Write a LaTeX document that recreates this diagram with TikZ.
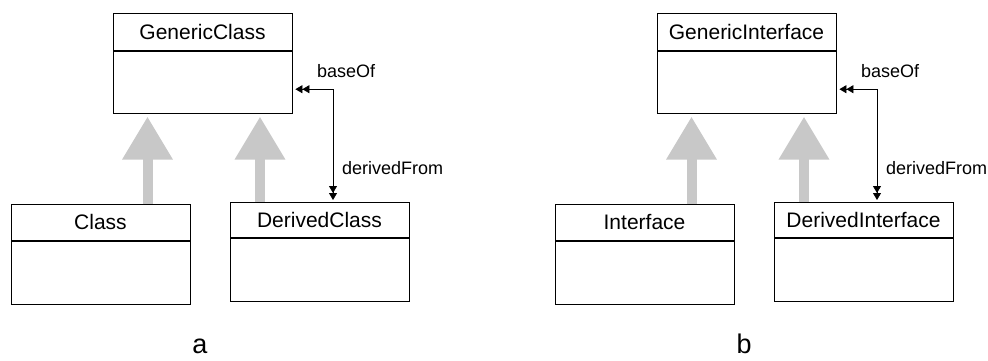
\documentclass[tikz,border=0pt]{standalone}
\usepackage{fontspec}
\setmainfont{Liberation Sans}
\usepackage{xcolor}
\usetikzlibrary{arrows.meta}

\definecolor{inhgray}{RGB}{200,200,200}

\begin{document}
\begin{tikzpicture}[x=1pt,y=-1pt,
	head/.style={draw,line width=0.8pt,minimum width=179pt,minimum height=37pt,inner sep=0pt,anchor=north,font=\fontsize{21}{25}\selectfont},
	body/.style={draw,line width=0.8pt,minimum width=179pt,minimum height=62pt,inner sep=0pt,anchor=north},
	lbl/.style={anchor=west,inner sep=0pt,font=\fontsize{18}{21}\selectfont},
	inherit/.style={draw=inhgray,line width=10pt,shorten >=3pt,-{Triangle[length=43pt,width=48pt]}},
	assoc/.style={line width=0.8pt,shorten <=3pt,shorten >=2pt,
		{Triangle[length=7pt,width=8pt] Triangle[length=7pt,width=8pt]}-{Triangle[length=7pt,width=8pt] Triangle[length=7pt,width=8pt]}}]
	\useasboundingbox (0,0) rectangle (988,360);
	
	\foreach \dx/\gname/\bname/\dname/\tag in {0/GenericClass/Class/DerivedClass/a,544/GenericInterface/Interface/DerivedInterface/b}{
		\begin{scope}[xshift=\dx pt]
			\node[head] (gen\tag) at (202.5,13) {\gname};
			\node[body] (genb\tag) at (gen\tag.south) {};
			\node[head,minimum height=36pt] (cls\tag) at (100.5,204) {\bname};
			\node[body,minimum height=63pt] (clsb\tag) at (cls\tag.south) {};
			\node[head,minimum height=35pt] (der\tag) at (319.5,202) {\dname};
			\node[body,minimum height=63pt] (derb\tag) at (der\tag.south) {};
			
			\draw[inherit] ([xshift=47pt]cls\tag.north) -- ([xshift=-55pt]genb\tag.south);
			\draw[inherit] ([xshift=-59.5pt]der\tag.north) -- ([xshift=57.5pt]genb\tag.south);
			\draw[assoc] ([yshift=-7pt]genb\tag.east) -| ([xshift=13.5pt]der\tag.north);
			
			\node[lbl] at (317,71) {baseOf};
			\node[lbl] at (342,168) {derivedFrom};
			\node[font=\fontsize{27}{30}\selectfont,inner sep=0pt,anchor=base] at (200,353) {\tag};
		\end{scope}
	}
\end{tikzpicture}
\end{document}
